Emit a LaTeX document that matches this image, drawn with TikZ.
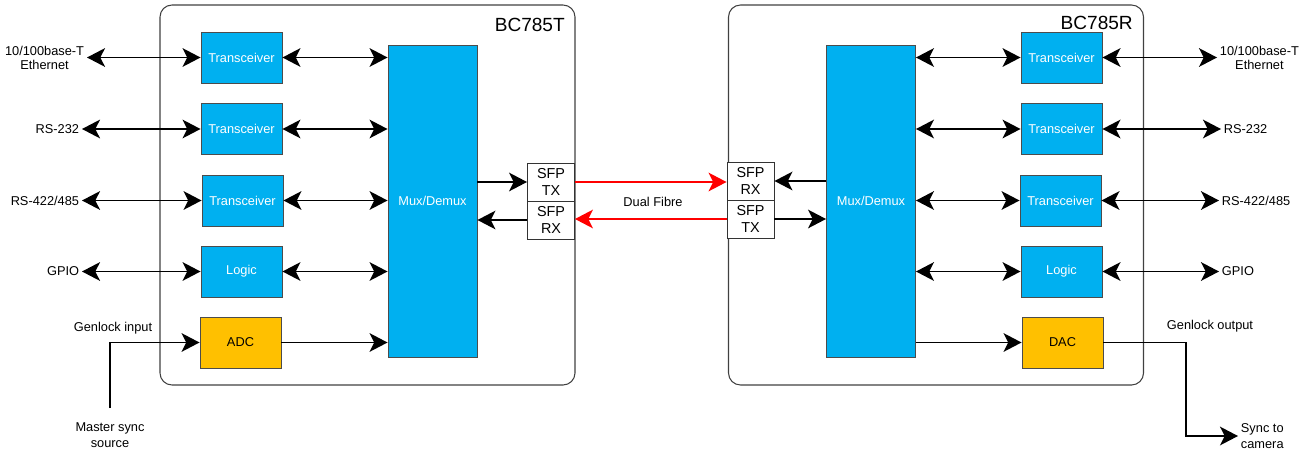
\documentclass[tikz,border=0pt]{standalone}
\usepackage{fontspec}
\setmainfont{Liberation Sans}
\usetikzlibrary{arrows.meta}
\definecolor{bbl}{HTML}{00B0F0}
\definecolor{org}{HTML}{FFC000}
\begin{document}
\begin{tikzpicture}[x=0.75pt,y=-0.75pt,
  tip/.tip={Stealth[length=13.5pt,width=14pt,inset=3.5pt]},
  container/.style={draw=black!75, line width=0.8pt, rounded corners=9pt, minimum width=311.25pt, minimum height=285pt, inner sep=0pt},
  blk/.style={draw=black!70, line width=0.7pt, fill=bbl, text=white, minimum width=60.75pt, minimum height=38.25pt, inner sep=0pt, font=\fontsize{9.6}{11}\selectfont},
  conv/.style={blk, fill=org, text=black},
  muxbox/.style={blk, minimum width=66.75pt, minimum height=234pt},
  sfp/.style={draw=black!80, fill=white, line width=0.7pt, minimum width=35.25pt, minimum height=28.5pt, inner sep=0pt, align=center, font=\fontsize{10.8}{12.75}\selectfont},
  lbl/.style={font=\fontsize{9.6}{11.5}\selectfont, align=center, inner sep=2pt},
  ttl/.style={font=\fontsize{14.3}{16}\selectfont, inner sep=0pt},
  link/.style={line width=1.35pt, -tip},
  blink/.style={line width=1.35pt, tip-tip},
  fibre/.style={line width=1.35pt, -tip, draw=red}
]
\useasboundingbox (0,0) rectangle (1306,450);

% containers
\node[container] (boxT) at (367.5,195) {};
\node[container] (boxR) at (936,195) {};
\node[ttl, anchor=base east] (ttlT) at (565,31) {BC785T};
\node[ttl, anchor=base east] (ttlR) at (1133,29) {BC785R};

% left blocks
\node[blk] (lt1) at (241.5,57.5) {Transceiver};
\node[blk] (lt2) at (241.5,129) {Transceiver};
\node[blk] (lt3) at (242.5,200.5) {Transceiver};
\node[blk] (llg) at (241.5,271.5) {Logic};
\node[conv] (adc) at (240.5,342.5) {ADC};
\node[muxbox] (lmux) at (432.5,201) {Mux/Demux};
\node[sfp] (ltx) at (551,182) {SFP\\TX};
\node[sfp] (lrx) at (551,220) {SFP\\RX};

% right blocks
\node[blk] (rt1) at (1061.5,57.5) {Transceiver};
\node[blk] (rt2) at (1061.5,129) {Transceiver};
\node[blk] (rt3) at (1060.5,200.5) {Transceiver};
\node[blk] (rlg) at (1061.5,271.5) {Logic};
\node[conv] (dac) at (1062.5,342.5) {DAC};
\node[muxbox] (rmux) at (871,201) {Mux/Demux};
\node[sfp] (rrx) at (750.5,181) {SFP\\RX};
\node[sfp] (rtx) at (750.5,219) {SFP\\TX};

% external labels left
\node[lbl, anchor=east] (leth) at (87,57.5) {10/100base-T\\[-1pt]Ethernet};
\node[lbl, anchor=east] (l232) at (82,129) {RS-232};
\node[lbl, anchor=east] (l422) at (82,200.5) {RS-422/485};
\node[lbl, anchor=east] (lgp) at (82,271.5) {GPIO};
\node[lbl] (gin) at (113,328) {Genlock input};
\node[lbl, anchor=north] (mss) at (110,420) {Master sync\\source};
\coordinate (msrc) at (110,408);

% external labels right
\node[lbl, anchor=west] (reth) at (1217,57.5) {10/100base-T\\[-1pt]Ethernet};
\node[lbl, anchor=west] (r232) at (1221,129) {RS-232};
\node[lbl, anchor=west] (r422) at (1219,200.5) {RS-422/485};
\node[lbl, anchor=west] (rgp) at (1219,271.5) {GPIO};
\node[lbl] (gout) at (1210,326) {Genlock output};
\node[lbl, anchor=west] (stc) at (1238,436) {Sync to\\camera};
\coordinate (gbend) at (1186,436);

\node[lbl] (dual) at (653,202) {Dual Fibre};

% left connectors
\draw[blink] (leth.east) -- (leth.east -| lt1.west);
\draw[blink] (l232.east) -- (lt2.west);
\draw[blink] (l422.east) -- (lt3.west);
\draw[blink] (lgp.east) -- (llg.west);
\draw[link] (msrc) |- (adc.west);
\draw[blink] (lt1.east) -- (lt1.east -| lmux.west);
\draw[blink] (lt2.east) -- (lt2.east -| lmux.west);
\draw[blink] (lt3.east) -- (lt3.east -| lmux.west);
\draw[blink] (llg.east) -- (llg.east -| lmux.west);
\draw[link] (adc.east) -- (adc.east -| lmux.west);
\draw[link] (ltx.west -| lmux.east) -- (ltx.west);
\draw[link] (lrx.west) -- (lrx.west -| lmux.east);

% fibres
\draw[fibre] (ltx.east) -- (ltx.east -| rrx.west);
\draw[fibre] (rtx.west) -- (rtx.west -| lrx.east);

% right connectors
\draw[link] (rrx.east -| rmux.west) -- (rrx.east);
\draw[link] (rtx.east) -- (rtx.east -| rmux.west);
\draw[blink] (rt1.west -| rmux.east) -- (rt1.west);
\draw[blink] (rt2.west -| rmux.east) -- (rt2.west);
\draw[blink] (rt3.west -| rmux.east) -- (rt3.west);
\draw[blink] (rlg.west -| rmux.east) -- (rlg.west);
\draw[link] (dac.west -| rmux.east) -- (dac.west);
\draw[blink] (rt1.east) -- (rt1.east -| reth.west);
\draw[blink] (rt2.east) -- (r232.west);
\draw[blink] (rt3.east) -- (r422.west);
\draw[blink] (rlg.east) -- (rgp.west);
\draw[link] (dac.east) -| (gbend) -- (stc.west);
\end{tikzpicture}
\end{document}
